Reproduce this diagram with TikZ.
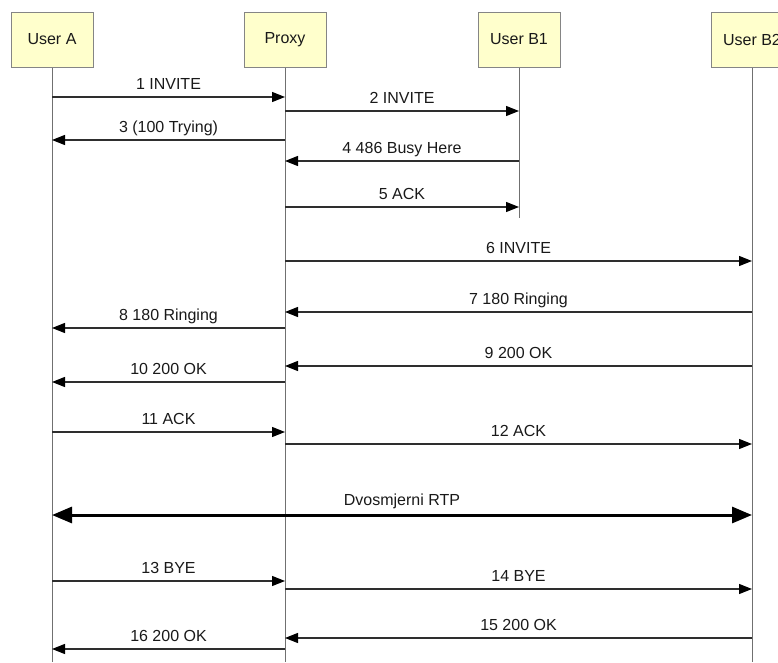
\documentclass[tikz,border=0pt]{standalone}
\usepackage{fontspec}
\setmainfont{Liberation Sans}
\usetikzlibrary{arrows.meta}
\definecolor{boxfill}{HTML}{FFFFCC}
\definecolor{boxline}{HTML}{858585}
\definecolor{lifegray}{HTML}{707070}
\definecolor{msgline}{HTML}{2E2E2E}

\begin{document}
\begin{tikzpicture}[x=1pt,y=-1pt,
    actor/.style={draw=boxline,fill=boxfill,line width=1pt,minimum width=82pt,minimum height=55pt,
      inner sep=0pt,text=black!90,font=\fontsize{16}{19}\selectfont},
    life/.style={draw=lifegray,line width=0.9pt},
    msg/.style={draw=msgline,line width=1.2pt,-{Triangle[length=13pt,width=10pt,color=black]}},
    rtp/.style={draw=black,line width=3pt,{Triangle[length=20pt,width=16pt]}-{Triangle[length=20pt,width=16pt]}},
    lbl/.style={anchor=base,yshift=8pt,text=black!90,font=\fontsize{16}{19}\selectfont}]
    % page is the 778 x 662 frame; User B2 runs off the right edge
    \useasboundingbox (0,0) rectangle (778,662);
    \clip (0,0) rectangle (778,662);

    % participants
    \node[actor] (ua) at (52,39.5)  {User A};
    \node[actor] (px) at (285,39.5) {Proxy};
    \node[actor] (b1) at (519,39.5) {User B1};
    \node[actor] (b2) at (752,39.5) {User B2};

    % lifelines (B1 stops after the ACK)
    \coordinate (uaend) at (52,662);
    \coordinate (pxend) at (285,662);
    \coordinate (b1end) at (519,218);
    \coordinate (b2end) at (752,662);
    \foreach \who in {ua,px,b1,b2}
      \draw[life] (\who.south) -- (\who end);

    % messages: from / to / height / text
    \foreach \from/\to/\y/\txt in {ua/px/97/1 INVITE, px/b1/111/2 INVITE, px/ua/140/3 (100 Trying),
        b1/px/161/4 486 Busy Here, px/b1/207/5 ACK, px/b2/261/6 INVITE,
        b2/px/312/7 180 Ringing, px/ua/328/8 180 Ringing, b2/px/366/9 200 OK,
        px/ua/382/10 200 OK, ua/px/432/11 ACK, px/b2/444/12 ACK,
        ua/px/581/13 BYE, px/b2/589/14 BYE, b2/px/638/15 200 OK, px/ua/649/16 200 OK}
      \draw[msg] (\from |- 0,\y) -- node[lbl] {\txt} (\to |- 0,\y);

    % media stream both ways
    \draw[rtp] (ua |- 0,515) -- node[lbl,yshift=2pt] {Dvosmjerni RTP} (b2 |- 0,515);
\end{tikzpicture}
\end{document}
